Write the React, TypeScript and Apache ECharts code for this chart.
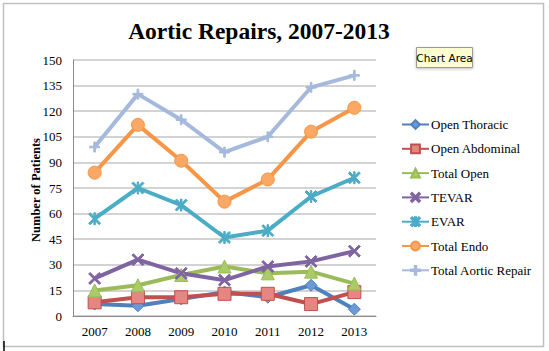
import React, { useEffect, useRef } from "react";
import * as echarts from "echarts";

const years = ["2007", "2008", "2009", "2010", "2011", "2012", "2013"];
const openThoracic = [7, 6, 10, 14, 11, 18, 4];
const openAbdominal = [8, 11, 11, 13, 13, 7, 14];
const totalOpen = [15, 18, 24, 29, 25, 26, 19];
const tevar = [22, 33, 25, 21, 29, 32, 38];
const evar = [57, 75, 65, 46, 50, 70, 81];
const totalEndo = [84, 112, 91, 67, 80, 108, 122];
const totalAortic = [99, 130, 115, 96, 105, 134, 141];

const X_PATH = "path://M0,1.2 L1.2,0 L5,3.8 L8.8,0 L10,1.2 L6.2,5 L10,8.8 L8.8,10 L5,6.2 L1.2,10 L0,8.8 L3.8,5 Z";
const STAR_PATH = "path://M0,1.2 L1.2,0 L4.4,3.2 L4.4,0 L5.6,0 L5.6,3.2 L8.8,0 L10,1.2 L6.2,5 L10,8.8 L8.8,10 L5.6,6.8 L5.6,10 L4.4,10 L4.4,6.8 L1.2,10 L0,8.8 L3.8,5 Z";
const PLUS_PATH = "path://M4.2,0 L5.8,0 L5.8,4.2 L10,4.2 L10,5.8 L5.8,5.8 L5.8,10 L4.2,10 L4.2,5.8 L0,5.8 L0,4.2 L4.2,4.2 Z";

const SERIF = "'Liberation Serif', 'DejaVu Serif', serif";

export default function App() {
  const ref = useRef<HTMLDivElement>(null);
  useEffect(() => {
    if (!ref.current) return;
    const chart = echarts.init(ref.current, undefined, { renderer: "svg" });
    const mk = (
      name: string,
      data: number[],
      line: string,
      fill: string,
      symbol: string,
      size: number
    ) => ({
      name,
      type: "line",
      data,
      symbol,
      symbolSize: size,
      lineStyle: { color: line, width: 4 },
      itemStyle: { color: fill, borderColor: line, borderWidth: 1 },
      emphasis: { disabled: true },
    });
    chart.setOption({
      animation: false,
      backgroundColor: "#ffffff",
      grid: { left: 73, right: 173, top: 60, bottom: 35, containLabel: false },
      xAxis: {
        type: "category",
        data: years,
        boundaryGap: true,
        axisLine: { lineStyle: { color: "#8c8c8c", width: 1 } },
        axisTick: { show: false },
        axisLabel: { fontFamily: SERIF, fontSize: 13, color: "#000", margin: 9 },
      },
      yAxis: {
        type: "value",
        min: 0,
        max: 150,
        interval: 15,
        axisLine: { show: true, lineStyle: { color: "#8c8c8c", width: 1 } },
        axisTick: { show: false },
        axisLabel: { fontFamily: SERIF, fontSize: 13, color: "#000", margin: 11 },
        splitLine: { lineStyle: { color: "#c4c4c4", width: 1.5 } },
      },
      legend: {
        orient: "vertical",
        left: 396,
        top: 113,
        itemWidth: 27,
        itemHeight: 11,
        itemGap: 11.3,
        textStyle: { fontFamily: SERIF, fontSize: 13, color: "#000", padding: [0, 0, 0, -3] },
        data: [
          "Open Thoracic",
          "Open Abdominal",
          "Total Open",
          "TEVAR",
          "EVAR",
          "Total Endo",
          "Total Aortic Repair",
        ],
      },
      series: [
        mk("Open Thoracic", openThoracic, "#4f81bd", "#6b9ad6", "diamond", 12),
        mk("Open Abdominal", openAbdominal, "#c0504d", "#e58683", "rect", 13),
        mk("Total Open", totalOpen, "#9bbb59", "#a9cc66", "triangle", 13),
        mk("TEVAR", tevar, "#8064a2", "#8064a2", X_PATH, 12),
        mk("EVAR", evar, "#4bacc6", "#4bacc6", STAR_PATH, 12),
        mk("Total Endo", totalEndo, "#f79646", "#f9a865", "circle", 13),
        mk("Total Aortic Repair", totalAortic, "#a5b9dc", "#a5b9dc", PLUS_PATH, 10),
      ],
      graphic: [
        {
          type: "rect",
          shape: { x: 3.5, y: 3.5, width: 540, height: 343 },
          style: { fill: "none", stroke: "#c0c0c0", lineWidth: 1.5 },
          silent: true,
        },
        {
          type: "text",
          x: 259,
          y: 31,
          style: {
            text: "Aortic Repairs, 2007-2013",
            font: "bold 23.5px " + SERIF,
            fill: "#000",
            align: "center",
            verticalAlign: "middle",
          },
        },
        {
          type: "text",
          x: 36,
          y: 190,
          rotation: Math.PI / 2,
          style: {
            text: "Number of Patients",
            font: "bold 12.5px " + SERIF,
            fill: "#000",
            align: "center",
            verticalAlign: "middle",
          },
        },
        {
          type: "rect",
          shape: { x: 416.5, y: 47.5, width: 56, height: 20 },
          style: { fill: "#fdfdcf", stroke: "#9a9a9a", lineWidth: 1, shadowBlur: 3, shadowColor: "rgba(0,0,0,0.25)", shadowOffsetY: 1 },
        },
        {
          type: "text",
          x: 444.5,
          y: 58,
          style: {
            text: "Chart Area",
            font: "10.5px 'DejaVu Sans', 'Liberation Sans', sans-serif",
            fill: "#000",
            align: "center",
            verticalAlign: "middle",
          },
        },
        {
          type: "line",
          shape: { x1: 4, y1: 341, x2: 4, y2: 351 },
          style: { stroke: "#000", lineWidth: 1.5 },
        },
      ],
    });
    return () => chart.dispose();
  }, []);
  return (
    <div
      ref={ref}
      style={{ position: "absolute", left: 0, top: 0, width: 549, height: 351 }}
    />
  );
}
